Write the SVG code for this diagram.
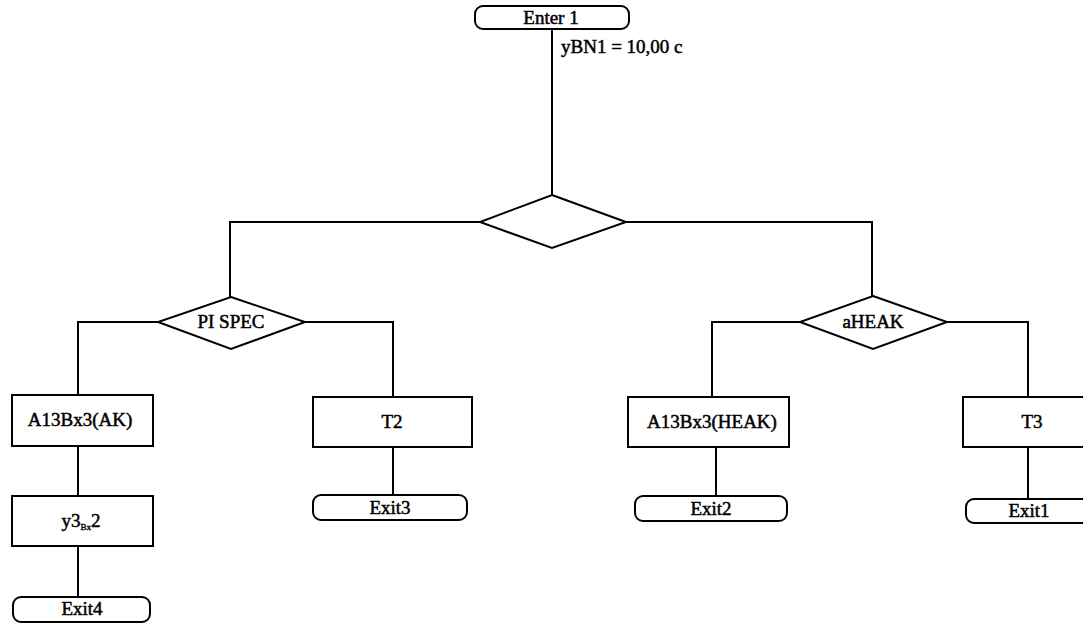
<svg xmlns="http://www.w3.org/2000/svg" width="1083" height="624" viewBox="0 0 1083 624">
<style>
.s{fill:#fff;stroke:#000;stroke-width:2}
.c{fill:none;stroke:#000;stroke-width:2}
.t{font-family:'Liberation Serif',serif;font-size:19px;fill:#000;stroke:#000;stroke-width:0.5px;text-anchor:middle}
.l{font-family:'Liberation Serif',serif;font-size:19px;fill:#000;stroke:#000;stroke-width:0.5px}
.sub{font-size:9px;stroke-width:0.4px}
</style>
<rect width="1083" height="624" fill="#fff"/>
<g id="connectors">
<path class="c" d="M552 29V195"/>
<path class="c" d="M480 222H230V297"/>
<path class="c" d="M626 222H872V296"/>
<path class="c" d="M158 322H78V395"/>
<path class="c" d="M78 446V496"/>
<path class="c" d="M78 546V597"/>
<path class="c" d="M305 322H393V397"/>
<path class="c" d="M393 447V495"/>
<path class="c" d="M800 322H712V397"/>
<path class="c" d="M716 447V496"/>
<path class="c" d="M947 322H1028V397"/>
<path class="c" d="M1028 447V499"/>
</g>
<g id="enter1">
<rect class="s" x="475" y="6" width="154" height="23" rx="8"/>
<text class="t" x="551" y="24">Enter 1</text>
</g>
<g id="label-ybn1">
<text class="l" x="561" y="53">yBN1 = 10,00 c</text>
</g>
<g id="decision-main">
<polygon class="s" points="552,195 626,222 552,248 480,222"/>
</g>
<g id="decision-pispec">
<polygon class="s" points="231,297 305,322 231,349 158,322"/>
<text class="t" x="231" y="328">PI SPEC</text>
</g>
<g id="decision-aheak">
<polygon class="s" points="873,296 947,322 873,349 800,322"/>
<text class="t" x="873" y="328">aHEAK</text>
</g>
<g id="box-a13ak">
<rect class="s" x="12" y="395" width="141" height="51"/>
<text class="t" x="80" y="426">A13Bx3(AK)</text>
</g>
<g id="box-y3">
<rect class="s" x="12" y="496" width="141" height="50"/>
<text class="t" x="81" y="527">y3<tspan class="sub" dy="3">Bx</tspan><tspan dy="-3">2</tspan></text>
</g>
<g id="exit4">
<rect class="s" x="13" y="597" width="137" height="25" rx="8"/>
<text class="t" x="82" y="615">Exit4</text>
</g>
<g id="box-t2">
<rect class="s" x="313" y="397" width="159" height="50"/>
<text class="t" x="392" y="428">T2</text>
</g>
<g id="exit3">
<rect class="s" x="313" y="495" width="154" height="25" rx="8"/>
<text class="t" x="390" y="514">Exit3</text>
</g>
<g id="box-a13heak">
<rect class="s" x="628" y="397" width="161" height="50"/>
<text class="t" x="712" y="428">A13Bx3(HEAK)</text>
</g>
<g id="exit2">
<rect class="s" x="635" y="496" width="152" height="25" rx="8"/>
<text class="t" x="711" y="515">Exit2</text>
</g>
<g id="box-t3">
<rect class="s" x="963" y="397" width="140" height="50"/>
<text class="t" x="1032" y="428">T3</text>
</g>
<g id="exit1">
<rect class="s" x="966" y="499" width="130" height="24" rx="8"/>
<text class="t" x="1029" y="517">Exit1</text>
</g>
</svg>
